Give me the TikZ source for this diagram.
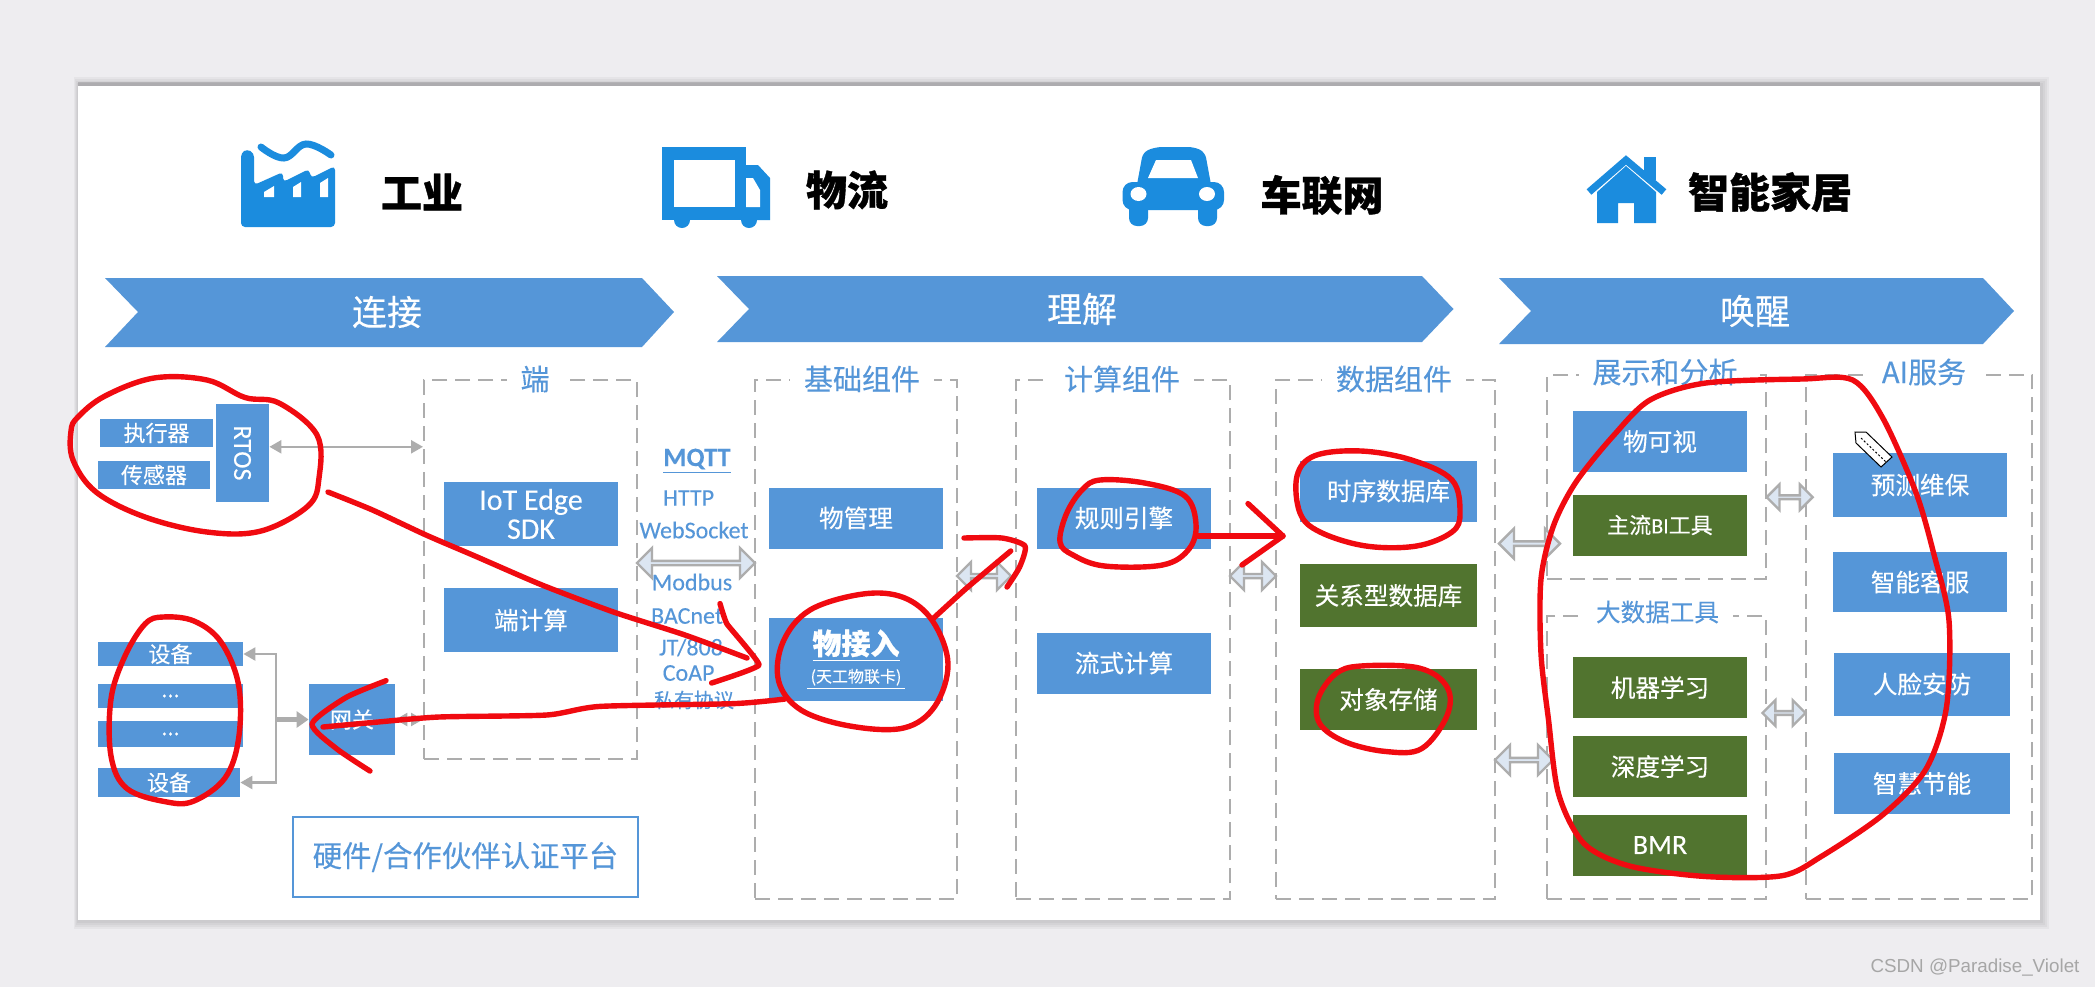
\documentclass[tikz,border=0pt]{standalone}
\usepackage{fontspec}
\setmainfont{Noto Sans CJK SC}[FakeBold=0.25,BoldFeatures={FakeBold=0.9}]
\newfontfamily\latinfont{Carlito}[FakeBold=0.15]
\newfontfamily\markfont{Liberation Sans}
\usepackage{xcolor}
\usetikzlibrary{positioning,arrows.meta,shapes,shapes.arrows,calc}
\definecolor{boxblue}{HTML}{5596D8}
\definecolor{boxgreen}{HTML}{51742F}
\definecolor{iconblue}{HTML}{1B8CDE}
\definecolor{pagegray}{HTML}{EEEDF0}
\definecolor{dashgray}{HTML}{ADADAD}
\definecolor{linkfill}{HTML}{DCE6F2}
\definecolor{penred}{HTML}{F00A10}
\newcommand{\bodyfont}{\fontsize{12.3}{15}\selectfont}
\newcommand{\smallbody}{\fontsize{11}{14}\selectfont}
\newcommand{\titlefont}{\fontsize{14.5}{17}\selectfont}
\newcommand{\topfont}{\fontsize{20.5}{24}\selectfont\bfseries}
\newcommand{\bandfont}{\fontsize{17.5}{20}\selectfont}
\newcommand{\protofont}{\fontsize{12}{14}\selectfont\latinfont}

\begin{document}
\begin{tikzpicture}[
  x=0.5pt, y=-0.5pt,
  >=Stealth,
  panelbox/.style={
    rectangle, inner sep=0pt, text=white, align=center, font=\bodyfont
  },
  bluebox/.style={panelbox, fill=boxblue},
  greenbox/.style={panelbox, fill=boxgreen},
  wide/.style={minimum width=87pt, minimum height=30.5pt},
  group/.style={
    rectangle, draw=dashgray, line width=1pt, dash pattern=on 7.5pt off 4pt,
    inner sep=0pt
  },
  grouptitle/.style={
    fill=white, inner xsep=7pt, inner ysep=0.5pt, text=boxblue, font=\titlefont
  },
  proto/.style={text=boxblue, inner sep=0pt, font=\protofont},
  link/.style={
    double arrow, draw=dashgray, fill=linkfill, line width=1.2pt, inner sep=0pt,
    minimum width=15pt, double arrow head extend=3.5pt, shape border rotate=0
  },
  band/.style={fill=boxblue},
  bandtext/.style={text=white, font=\bandfont, inner sep=0pt},
  toptext/.style={text=black, font=\topfont, inner sep=0pt},
  icon/.style={fill=iconblue},
  hair/.style={draw=dashgray, line width=1.2pt, {Triangle[length=6pt,width=6.5pt]}-{Triangle[length=6pt,width=6.5pt]}},
  hairto/.style={draw=dashgray, line width=1.2pt, -{Triangle[length=6pt,width=6.5pt]}},
  redpen/.style={draw=penred, line width=2.7pt, line cap=round, line join=round}
]

% page and slide
\fill[pagegray] (0,0) rectangle (2095,987);
\foreach \d in {9,7,5,3}
  \fill[black, opacity=0.035] (78-0.4*\d,86-\d) rectangle (2040+\d,920+\d);
\fill[black, opacity=0.15] (78,82) rectangle (2040,86);
\fill[white] (78,86) rectangle (2040,920);

% icons
\fill[icon, rounded corners=2pt] (241,227) -- (241,153) -- (247,149) -- (254,153) -- (254,185)
  -- (283,172) -- (283,182) -- (309,169) -- (311,178) -- (335,166) -- (335,227) -- cycle;
\fill[white] (264,197) -- (264,192) -- (274,186) -- (274,197) -- cycle;
\fill[white] (293,197) -- (293,187) -- (301,182) -- (301,197) -- cycle;
\fill[white] (320,197) -- (320,183) -- (328,178) -- (328,197) -- cycle;
\draw[iconblue, line width=3.5pt, line cap=round] plot[smooth, tension=0.7] coordinates {(261,147) (284,158) (306,144) (331,155)};

\fill[icon] (662,147) rectangle (746,220);
\fill[icon] (746,165) -- (758,165) -- (770,178) -- (770,220) -- (746,220) -- cycle;
\fill[white] (673.5,160) rectangle (735,207);
\fill[white] (746,178) -- (753,178) -- (760,190) -- (760,207) -- (746,207) -- cycle;
\fill[icon] (682,220) circle (8);
\fill[icon] (749,220) circle (8);

\fill[icon, rounded corners=3pt] (1136,190) -- (1143,152) -- (1156,147) -- (1194,147) -- (1205,152) -- (1212,190) -- cycle;
\fill[icon, rounded corners=5pt] (1122.5,182) rectangle (1224,210);
\fill[icon, rounded corners=4pt] (1129,200) rectangle (1148,226);
\fill[icon, rounded corners=4pt] (1198,200) rectangle (1217,226);
\fill[white] (1156,160) -- (1191,160) -- (1198,178) -- (1148,178) -- cycle;
\fill[white] (1138.5,194) circle[x radius=8, y radius=7];
\fill[white] (1207,194) circle[x radius=8, y radius=7];

\fill[icon] (1597,192) -- (1626,166) -- (1656,192) -- (1656,223) -- (1634,223) -- (1634,203) -- (1618,203) -- (1618,223) -- (1597,223) -- cycle;
\draw[iconblue, line width=3.6pt] (1589,192) -- (1626,160) -- (1664,192);
\fill[icon] (1643.5,157) rectangle (1656,180);

\node[toptext] (industry) at (422,192) {工业};
\node[toptext] (logistics) at (847,190) {物流};
\node[toptext] (vehicle) at (1322,195) {车联网};
\node[toptext] (home) at (1770,192) {智能家居};

% chevrons
\fill[band] (105,278) -- (642,278) -- (674,312) -- (642,347) -- (105,347) -- (138,312) -- cycle;
\fill[band] (717,276) -- (1422,276) -- (1453.5,309) -- (1422,342) -- (717,342) -- (749,309) -- cycle;
\fill[band] (1499,278) -- (1983,278) -- (2014,311) -- (1983,344) -- (1499,344) -- (1531,311) -- cycle;
\node[bandtext] (connect) at (387,312) {连接};
\node[bandtext] (understand) at (1082,309) {理解};
\node[bandtext] (awaken) at (1755,311) {唤醒};

% dashed groups
\node[group, minimum width=106.5pt, minimum height=189.5pt] (edgegrp) at (530.5,569.5) {};
\node[group, minimum width=101pt, minimum height=259.5pt] (basegrp) at (856,639.5) {};
\node[group, minimum width=107pt, minimum height=259.5pt] (calcgrp) at (1123,639.5) {};
\node[group, minimum width=109.5pt, minimum height=259.5pt] (datagrp) at (1385.5,639.5) {};
\node[group, minimum width=109.5pt, minimum height=102pt] (showgrp) at (1656.5,477) {};
\node[group, minimum width=109.5pt, minimum height=141.5pt] (bigdgrp) at (1656.5,757.5) {};
\node[group, minimum width=113.2pt, minimum height=262pt] (aigrp) at (1919,637) {};

\node[grouptitle] (edgetitle) at (535,379) {端};
\node[grouptitle] (basetitle) at (862,379) {基础组件};
\node[grouptitle] (calctitle) at (1122,379) {计算组件};
\node[grouptitle] (datatitle) at (1394,379) {数据组件};
\node[grouptitle] (showtitle) at (1665,372) {展示和分析};
\node[grouptitle, font=\bodyfont] (bigdtitle) at (1657.5,612) {大数据工具};
\node[grouptitle] (aititle) at (1924,372) {AI服务};

% left devices
\node[bluebox, font=\smallbody, minimum width=56.5pt, minimum height=14.2pt] (actuator) at (156.5,433) {执行器};
\node[bluebox, font=\smallbody, minimum width=56pt, minimum height=14pt] (sensor) at (154,475) {传感器};
\node[bluebox, minimum width=26.5pt, minimum height=49pt] (rtos) at (242.5,453) {\rotatebox{-90}{\fontsize{13}{15}\selectfont\latinfont RTOS}};
\node[bluebox, font=\smallbody, minimum width=72.5pt, minimum height=12pt] (devone) at (170.5,654) {设备};
\node[bluebox, font=\smallbody, minimum width=72.5pt, minimum height=12pt] (devtwo) at (170.5,696) {...};
\node[bluebox, font=\smallbody, minimum width=72.5pt, minimum height=13.2pt] (devthree) at (170.5,734) {...};
\node[bluebox, font=\smallbody, minimum width=71pt, minimum height=14.5pt] (devfour) at (169,782.5) {设备};
\node[bluebox, font=\smallbody, minimum width=43pt, minimum height=35.5pt] (gateway) at (352,719.5) {网关};
\coordinate (trunk) at (276,719.5);

\node[bluebox, font=\fontsize{15}{14.5}\selectfont\latinfont, minimum width=87.2pt, minimum height=31.7pt] (sdk) at (531,514) {IoT Edge\\SDK};
\node[bluebox, minimum width=87.2pt, minimum height=32pt] (edgecalc) at (531,620) {端计算};

\node[rectangle, draw=boxblue, line width=1.2pt, fill=white, text=boxblue, font=\fontsize{14.7}{18}\selectfont, minimum width=172.5pt, minimum height=40pt, inner sep=0pt] (cert) at (465.5,857) {硬件/合作伙伴认证平台};

\draw[hair] (rtos.13) -- (edgegrp.west |- rtos.13);
\draw[hair] (gateway.east) -- (edgegrp.west |- gateway.east);
\draw[hairto] (trunk) |- (devone.east);
\draw[hairto] (trunk) |- (devfour.east);
\draw[draw=dashgray, line width=2.5pt, -{Triangle[length=6pt,width=8pt]}] (trunk) -- (gateway.west);

% protocols
\node[proto, font=\fontsize{13.2}{15}\selectfont\latinfont\bfseries] (mqtt) at (697,461) {\underline{MQTT}};
\node[proto] (http) at (688.6,498) {HTTP};
\node[proto] (websocket) at (694,530) {WebSocket};
\node[proto] (modbus) at (692,582) {Modbus};
\node[proto] (bacnet) at (687,616) {BACnet};
\node[proto] (jt) at (691,647.5) {JT/808};
\node[proto] (coap) at (688.6,673) {CoAP};
\node[proto, font=\fontsize{10}{12}\selectfont] (private) at (694,700) {私有协议};

% component boxes
\node[bluebox, wide] (mgmt) at (856,518) {物管理};
\node[bluebox, minimum width=87pt, minimum height=41.5pt] (access) at (856,659.5) {{\fontsize{14.5}{18}\selectfont\bfseries\underline{物接入}}\\[-1pt]{\fontsize{8}{10}\selectfont\underline{\ (天工物联卡)\ }}};
\node[bluebox, wide] (rule) at (1124,518) {规则引擎};
\node[bluebox, wide] (stream) at (1124,663) {流式计算};
\node[bluebox, minimum width=88.5pt, minimum height=30.5pt] (tsdb) at (1388.5,491) {时序数据库};
\node[greenbox, minimum width=88.5pt, minimum height=31.5pt] (rdb) at (1388.5,595.5) {关系型数据库};
\node[greenbox, minimum width=88.5pt, minimum height=30.5pt] (objstore) at (1388.5,699.5) {对象存储};
\node[bluebox, wide] (visual) at (1660,441.5) {物可视};
\node[greenbox, wide, font=\smallbody] (bitool) at (1660,525) {主流{\latinfont BI}工具};
\node[greenbox, wide] (mlearn) at (1660,687.5) {机器学习};
\node[greenbox, wide] (dlearn) at (1660,766.5) {深度学习};
\node[greenbox, wide, font=\fontsize{14}{16}\selectfont\latinfont] (bmr) at (1660,845) {BMR};
\node[bluebox, minimum width=86.8pt, minimum height=31.8pt] (predict) at (1920,485) {预测维保};
\node[bluebox, minimum width=86.8pt, minimum height=30.2pt] (service) at (1920,582) {智能客服};
\node[bluebox, minimum width=88.2pt, minimum height=31.5pt] (face) at (1922,684) {人脸安防};
\node[bluebox, minimum width=88.2pt, minimum height=30.5pt] (energy) at (1922,783.5) {智慧节能};

% link arrows
\node[link, minimum height=59pt] (linkproto) at (696,563) {};
\node[link, minimum width=14pt, minimum height=27pt] (linkbase) at (984,576) {};
\node[link, minimum width=14pt, minimum height=23pt] (linkcalc) at (1253,576) {};
\node[link, minimum width=15pt, minimum height=30.5pt] (linkshow) at (1529.5,543.6) {};
\node[link, minimum width=15pt, minimum height=29pt] (linkbigd) at (1524,760) {};
\node[link, minimum width=12.8pt, minimum height=23pt] (linkvis) at (1789.7,497.2) {};
\node[link, minimum width=12.8pt, minimum height=21.5pt] (linkai) at (1784,713) {};

% pen strokes
\draw[redpen] plot[smooth cycle, tension=0.6] coordinates {(78,417) (105,396) (154,378) (207,380) (245,397.5) (279,403) (317,435) (319,478) (308,506) (261,531) (207,532) (145,517) (96,492) (73,460) (71,431)};
\draw[redpen] plot[smooth, tension=0.4] coordinates {(328,492) (372.5,510) (426,535) (475,556) (542,585) (613.5,612) (685,635) (747,658)};
\draw[redpen] plot[smooth, tension=0.2] coordinates {(720,603.6) (727,624) (759,665) (711.6,683)};
\draw[redpen] plot[smooth, tension=0.4] coordinates {(785,699) (734,703.6) (600,706.4) (546.6,715) (439,717) (372.5,722.5) (323,727)};
\draw[redpen] plot[smooth, tension=0.4] coordinates {(386,680.7) (346,697.5) (312,724) (337,749) (370,771)};
\draw[redpen] plot[smooth cycle, tension=0.6] coordinates {(163,617) (194,621) (221,642) (238.6,685) (238.6,738.6) (225,778) (194,801) (167,802) (127,788.6) (111,756) (111,699) (125,656) (145,624)};
\draw[redpen] plot[smooth cycle, tension=0.6] coordinates {(863,594) (903.6,597.5) (932.6,621) (948,663.6) (935,706) (903.6,728) (850,726) (801,710) (778.6,681) (783,642) (810,610)};
\draw[redpen] plot[smooth, tension=0.3] coordinates {(932.6,619) (966,588.6) (1010.7,551)};
\draw[redpen] plot[smooth, tension=0.4] coordinates {(964,538) (1002,538) (1025,546) (1019.6,567) (1007,587)};
\draw[redpen] plot[smooth cycle, tension=0.6] coordinates {(1100,480) (1144.6,483) (1185,496) (1196,524) (1189,549) (1162.5,565) (1104.5,566) (1073,555) (1060,542) (1066.5,513.6) (1082,490)};
\draw[redpen] (1198,536) -- (1283,536);
\draw[redpen] (1248,503.6) -- (1283,536) -- (1242,565);
\draw[redpen] plot[smooth cycle, tension=0.6] coordinates {(1361,451) (1411.6,460) (1452,480) (1460,513) (1452,532) (1416.6,546) (1366,546) (1320,532) (1300,513) (1297,476) (1315,455.6)};
\draw[redpen] plot[smooth cycle, tension=0.6] coordinates {(1361,666) (1419,668) (1447,687) (1447,715.6) (1421.7,748.6) (1386,751.5) (1345.6,742) (1320,724) (1318,699) (1335.5,674)};
\draw[redpen] plot[smooth cycle, tension=0.5] coordinates {(1852.7,380) (1883,418.4) (1916,492.7) (1934,554.6) (1949,620.6) (1946.5,707) (1926,769) (1883,814.6) (1822,856) (1782,875.7) (1705.7,876.5) (1629.6,866) (1584,843.5) (1558.6,794) (1548.5,719.7) (1541,653.7) (1541,579) (1553.5,525.7) (1576,482) (1614,435) (1650,400) (1705.7,383) (1802,379)};

% pencil cursor
\filldraw[fill=white, draw=black, line width=0.5pt] (1855,432) -- (1866,432) -- (1892,457) -- (1881,467) -- (1856,443) -- cycle;
\draw[black, line width=0.5pt, dash pattern=on 1pt off 1pt] (1861,438) -- (1886,462);

\node[text=gray!70, font=\fontsize{9.4}{12}\selectfont\markfont, inner sep=0pt] (mark) at (1975,968) {CSDN @Paradise\_Violet};

\end{tikzpicture}
\end{document}
